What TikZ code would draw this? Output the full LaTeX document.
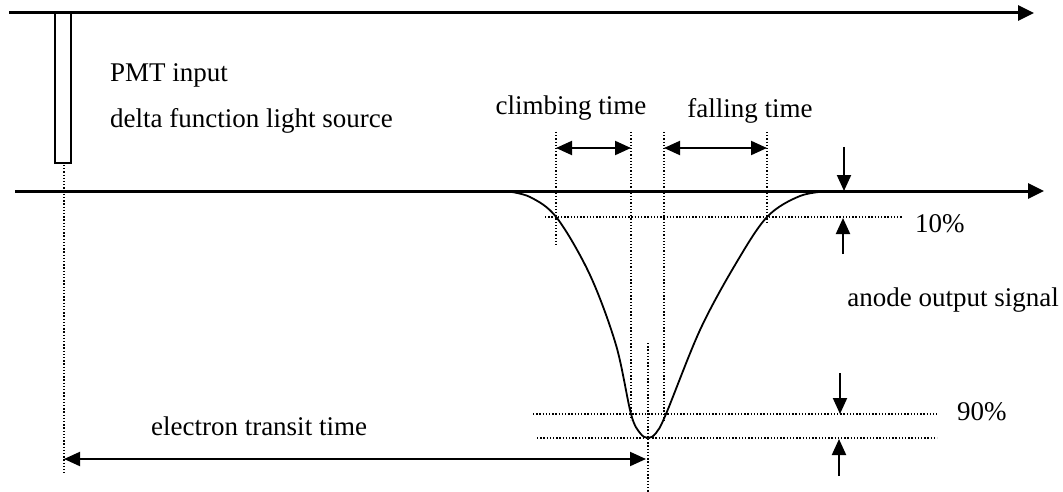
\documentclass[tikz,border=0pt]{standalone}
\usepackage{fontspec}
\setmainfont{Liberation Serif}
\usetikzlibrary{arrows.meta}
\begin{document}
\begin{tikzpicture}[x=1pt,y=-1pt,
  axis/.style={line width=3pt,-{Triangle[length=16pt,width=15pt]}},
  dim/.style={line width=2pt,{Triangle[length=16pt,width=14pt]}-{Triangle[length=16pt,width=14pt]}},
  marker/.style={line width=2pt,-{Triangle[length=16pt,width=14pt]}},
  guide/.style={line width=1.3pt,dash pattern=on 1.3pt off 1.9pt},
  lbl/.style={font=\fontsize{27}{30}\selectfont,inner sep=0pt}]
\useasboundingbox (0,0) rectangle (1063,492);
% axes
\coordinate (t0) at (9,13); \coordinate (t1) at (1034,13);
\draw[axis] (t0) -- (t1);
\coordinate (b0) at (15,191); \coordinate (b1) at (1044,191);
\draw[axis] (b0) -- (b1);
% light pulse
\draw[line width=2pt] (55,13) rectangle (71,163);
\node[lbl,anchor=base west] (pmt) at (110,82) {PMT input};
\node[lbl,anchor=base west] (delta) at (110,128) {delta function light source};
% guides
\coordinate (s0) at (64,165); \coordinate (s1) at (64,473);
\draw[guide] (s0) -- (s1);
\coordinate (c1a) at (556,132); \coordinate (c1b) at (556,245);
\coordinate (c2a) at (631,132); \coordinate (c2b) at (631,420);
\coordinate (f1a) at (664,132); \coordinate (f1b) at (664,421);
\coordinate (f2a) at (767,132); \coordinate (f2b) at (767,222);
\draw[guide] (c1a) -- (c1b);
\draw[guide] (c2a) -- (c2b);
\draw[guide] (f1a) -- (f1b);
\draw[guide] (f2a) -- (f2b);
\coordinate (c1m) at (556,148); \coordinate (c2m) at (631,148);
\coordinate (f1m) at (664,148); \coordinate (f2m) at (767,148);
\coordinate (m0) at (648,343); \coordinate (m1) at (648,492);
\draw[guide] (m0) -- (m1);
\coordinate (p10a) at (545,217); \coordinate (p10b) at (903,217);
\draw[guide] (p10a) -- (p10b);
\coordinate (p90a) at (533,414); \coordinate (p90b) at (937,414);
\draw[guide] (p90a) -- (p90b);
\coordinate (pka) at (537,438); \coordinate (pkb) at (937,438);
\draw[guide] (pka) -- (pkb);
% signal
\draw[line width=1.8pt] plot[smooth,tension=0.55] coordinates {(505,191) (530,197) (557,218) (590,275) (616,345) (631,414) (640,433) (648,438) (656,433) (666,414) (700,330) (735,265) (767,217) (800,196) (830,191)};
% dimension arrows
\draw[dim] (c1m) -- (c2m);
\draw[dim] (f1m) -- (f2m);
\node[lbl,anchor=base] (climb) at (571,115) {climbing time};
\node[lbl,anchor=base] (fall) at (750,118) {falling time};
% 10% markers
\coordinate (d1) at (844,147); \coordinate (d1t) at (844,191);
\draw[marker] (d1) -- (d1t);
\coordinate (u1) at (843,254); \coordinate (u1t) at (843,218);
\draw[marker] (u1) -- (u1t);
\node[lbl,anchor=base west] (ten) at (915,232) {10\%};
\node[lbl,anchor=base east] (anode) at (1059,306) {anode output signal};
% 90% markers
\coordinate (d2) at (840,373); \coordinate (d2t) at (840,414);
\draw[marker] (d2) -- (d2t);
\coordinate (u2) at (839,476); \coordinate (u2t) at (839,439);
\draw[marker] (u2) -- (u2t);
\node[lbl,anchor=base west] (ninety) at (957,420) {90\%};
% transit time
\coordinate (e0) at (64,459); \coordinate (e1) at (646,459);
\draw[dim] (e0) -- (e1);
\node[lbl,anchor=base] (transit) at (259,435) {electron transit time};
\end{tikzpicture}
\end{document}
